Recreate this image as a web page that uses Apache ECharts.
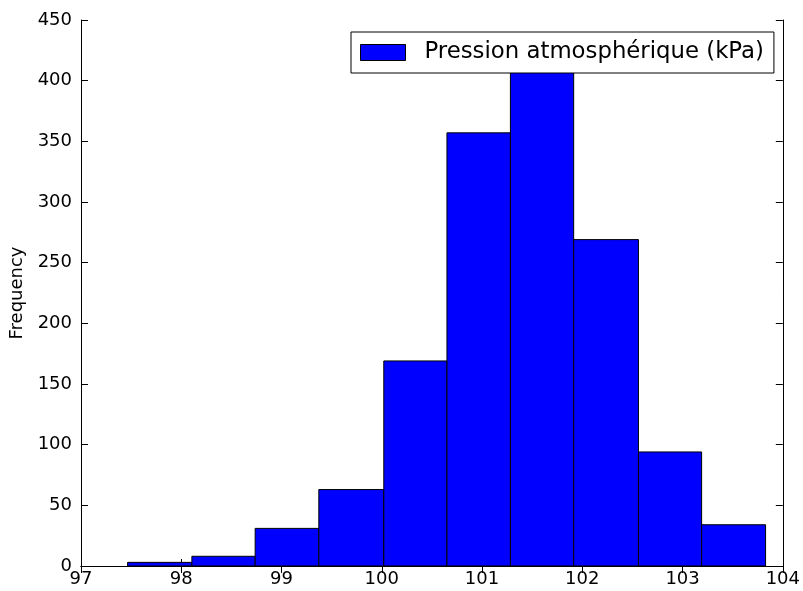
<!DOCTYPE html>
<html>
<head>
<meta charset="utf-8">
<script src="https://cdn.jsdelivr.net/npm/echarts@6/dist/echarts.min.js"></script>
<style>
html,body{margin:0;padding:0;background:#fff;}
#chart{width:803px;height:591px;}
</style>
</head>
<body>
<div id="chart"></div>
<script>
// Histogram bin edges (kPa) and counts
const binEdges = [97.465, 98.106, 98.737, 99.372, 100.02, 100.65, 101.283, 101.914, 102.56, 103.19, 103.828];
const counts = [3, 8, 31, 63, 169, 357, 418, 269, 94, 34];
const seriesName = 'Pression atmosphérique (kPa)';
const yAxisTitle = 'Frequency';
const xTicks = [97, 98, 99, 100, 101, 102, 103, 104];
const yTicks = [0, 50, 100, 150, 200, 250, 300, 350, 400, 450];

const data = counts.map((c, i) => [binEdges[i], binEdges[i + 1], c]);
const FONT = 'DejaVu Sans';

const chart = echarts.init(document.getElementById('chart'), null, {renderer: 'canvas'});
const axisLine = {show: true, lineStyle: {color: '#000', width: 1}};
const tickStyle = {show: true, inside: true, length: 7, lineStyle: {color: '#000', width: 1}};

chart.setOption({
  animation: false,
  backgroundColor: '#fff',
  grid: {left: 81, right: 18, top: 20, bottom: 25, containLabel: false},
  legend: {
    show: true,
    data: [{name: seriesName, icon: 'rect', itemStyle: {color: '#0000ff', borderColor: '#000', borderWidth: 1}}],
    left: 351, top: 32,
    itemWidth: 45, itemHeight: 16,
    padding: [9, 10, 9, 9],
    borderColor: '#000', borderWidth: 1, backgroundColor: '#fff',
    textStyle: {fontFamily: FONT, fontSize: 22.8, color: '#000', padding: [0, 0, 0, 14], lineHeight: 23}
  },
  xAxis: [
    {type: 'value', min: xTicks[0], max: xTicks[xTicks.length - 1], interval: 1,
     axisLine: axisLine, axisTick: tickStyle, splitLine: {show: false},
     axisLabel: {fontFamily: FONT, fontSize: 18, color: '#000', margin: 4}},
    {type: 'value', position: 'top', min: xTicks[0], max: xTicks[xTicks.length - 1], interval: 1,
     axisLine: axisLine, axisTick: tickStyle, splitLine: {show: false}, axisLabel: {show: false}}
  ],
  yAxis: [
    {type: 'value', min: yTicks[0], max: yTicks[yTicks.length - 1], interval: 50,
     name: yAxisTitle, nameLocation: 'middle', nameGap: 51, nameRotate: 90,
     nameTextStyle: {fontFamily: FONT, fontSize: 18, color: '#000'},
     axisLine: axisLine, axisTick: tickStyle, splitLine: {show: false},
     axisLabel: {fontFamily: FONT, fontSize: 18, color: '#000', margin: 9}},
    {type: 'value', position: 'right', min: yTicks[0], max: yTicks[yTicks.length - 1], interval: 50,
     axisLine: axisLine, axisTick: tickStyle, splitLine: {show: false}, axisLabel: {show: false}}
  ],
  series: [{
    name: seriesName,
    type: 'custom',
    xAxisIndex: 0, yAxisIndex: 0,
    itemStyle: {color: '#0000ff', borderColor: '#000', borderWidth: 1},
    encode: {x: [0, 1], y: 2},
    data: data,
    renderItem: function (params, api) {
      const p0 = api.coord([api.value(0), api.value(2)]);
      const p1 = api.coord([api.value(1), 0]);
      return {
        type: 'rect',
        shape: {x: p0[0], y: p0[1], width: p1[0] - p0[0], height: p1[1] - p0[1]},
        style: {fill: '#0000ff', stroke: '#000', lineWidth: 1}
      };
    }
  }]
});
</script>
</body>
</html>
